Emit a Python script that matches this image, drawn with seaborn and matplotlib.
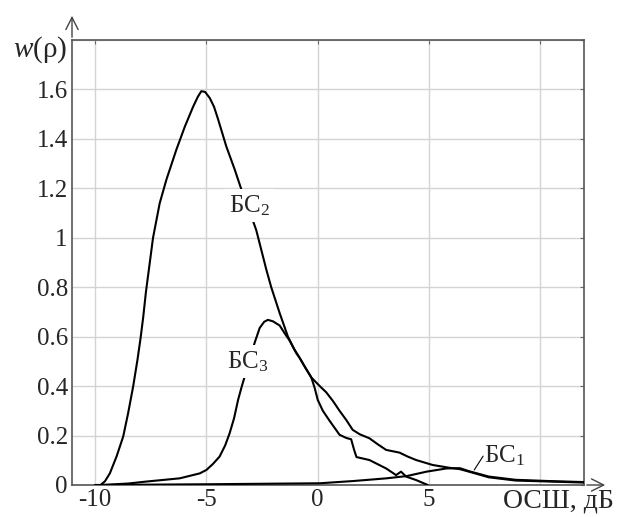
import matplotlib
matplotlib.use("Agg")
import matplotlib.pyplot as plt
import numpy as np
import pandas as pd
import seaborn as sns


# ── data ─────────────────────────────────────────────────────────────────────

bs1_x = [-10.0, -5.0, 0.1, 1.6, 3.1, 4.0, 4.9, 5.8, 6.4, 6.8, 7.7, 8.9, 10.4, 11.9, 12.0]
bs1_y = [0.0, 0.003, 0.007, 0.016, 0.027, 0.036, 0.054, 0.067, 0.068, 0.056, 0.034, 0.021, 0.016, 0.012, 0.012]

bs2_x = [-9.75, -9.55, -9.33, -9.03, -8.73, -8.51, -8.28, -8.09, -7.95, -7.83, -7.71, -7.55,
         -7.39, -7.09, -6.79, -6.34, -5.96, -5.59, -5.38, -5.22, -5.05, -4.84, -4.65, -4.47,
         -4.10, -3.72, -3.42, -3.10, -2.75, -2.30, -2.08, -1.70, -1.33, -1.05, -0.81, -0.55,
         -0.28, -0.12, 0.01, 0.24, 0.54, 0.99, 1.30, 1.51, 1.65, 1.75, 2.33, 3.08, 3.53,
         3.75, 3.98, 4.43, 4.95]
bs2_y = [0.0, 0.015, 0.047, 0.115, 0.196, 0.29, 0.40, 0.506, 0.594, 0.68, 0.78, 0.89,
         1.0, 1.14, 1.235, 1.357, 1.45, 1.53, 1.57, 1.593, 1.59, 1.565, 1.53, 1.48,
         1.37, 1.276, 1.195, 1.12, 1.03, 0.871, 0.80, 0.695, 0.60, 0.55, 0.515, 0.475,
         0.435, 0.39, 0.344, 0.30, 0.26, 0.203, 0.19, 0.185, 0.14, 0.113, 0.101, 0.067, 0.04,
         0.054, 0.034, 0.02, 0.0]

bs3_x = [-9.7, -8.5, -7.68, -6.19, -5.29, -4.99, -4.7, -4.4, -4.15, -3.95, -3.75, -3.57,
         -3.4, -3.1, -2.83, -2.6, -2.4, -2.23, -2.0, -1.70, -1.45, -1.26, -0.96, -0.81,
         -0.55, -0.28, 0.1, 0.39, 0.69, 0.99, 1.29, 1.58, 1.9, 2.33, 2.7, 3.08, 3.68,
         4.05, 4.43, 5.17, 5.9, 6.4, 6.8, 7.7, 8.9, 10.4, 11.9, 12.0]
bs3_y = [0.0, 0.006, 0.014, 0.027, 0.047, 0.061, 0.085, 0.115, 0.16, 0.209, 0.27, 0.344,
         0.40, 0.49, 0.574, 0.635, 0.66, 0.668, 0.662, 0.645, 0.61, 0.585, 0.534, 0.515,
         0.475, 0.435, 0.40, 0.375, 0.34, 0.30, 0.263, 0.223, 0.205, 0.189, 0.165, 0.142, 0.131,
         0.115, 0.101, 0.081, 0.070, 0.064, 0.054, 0.031, 0.018, 0.014, 0.010, 0.010]

x_ticks = [-10, -5, 0, 5, 10]
x_tick_labels = ["-10", "-5", "0", "5", ""]
y_ticks = [0, 0.2, 0.4, 0.6, 0.8, 1.0, 1.2, 1.4, 1.6, 1.8]
y_tick_labels = ["0", "0.2", "0.4", "0.6", "0.8", "1", "1.2", "1.4", "1.6", ""]


# ── plot ─────────────────────────────────────────────────────────────────────

sns.set_style("white")
plt.rcParams["font.family"] = ["Liberation Serif", "DejaVu Serif"]
plt.rcParams["mathtext.fontset"] = "custom"
plt.rcParams["mathtext.rm"] = "Liberation Serif"
plt.rcParams["mathtext.it"] = "Liberation Serif:italic"

fig = plt.figure(figsize=(6.17, 5.17), dpi=100)
ax = fig.add_axes([0.1167, 0.0619, 0.8298, 0.8607])

for xs, ys in [(bs1_x, bs1_y), (bs2_x, bs2_y), (bs3_x, bs3_y)]:
    df = pd.DataFrame({"x": xs, "y": ys})
    sns.lineplot(data=df, x="x", y="y", ax=ax, color="black", lw=1.5,
                 estimator=None, sort=False, zorder=3)

ax.set_xlim(-11.03, 11.97)
ax.set_ylim(0, 1.8)
ax.set_xticks(x_ticks)
ax.set_xticklabels(x_tick_labels)
ax.set_yticks(y_ticks)
ax.set_yticklabels(y_tick_labels)
ax.tick_params(labelsize=18, direction="in", length=3, color="#666666",
               top=True, right=True, pad=3)
ax.grid(True, color="#d4d4d4", lw=1.0)
ax.set_xlabel("")
ax.set_ylabel("")
for s in ax.spines.values():
    s.set_color("#555555")
    s.set_linewidth(1.2)

# curve labels
lbl = dict(fontsize=18, ha="center", va="center", zorder=4,
           bbox=dict(facecolor="white", edgecolor="none", pad=3))
ax.text(-3.05, 1.13, "БС$_2$", **lbl)
ax.text(-3.15, 0.50, "БС$_3$", **lbl)
ax.text(7.5, 0.12, "БС$_1$", fontsize=18, ha="left", va="center", zorder=4)
ax.plot([7.04, 7.44], [0.061, 0.117], color="black", lw=0.8, zorder=4)

# axis arrows
ax.annotate("", xy=(0, 1.0 + 27 / 445), xytext=(0, 1.0), xycoords="axes fraction",
            arrowprops=dict(arrowstyle="->", lw=1.0, color="#444444",
                            mutation_scale=22))
ax.annotate("", xy=(1.0 + 24 / 512, 0), xytext=(1.0, 0), xycoords="axes fraction",
            arrowprops=dict(arrowstyle="->", lw=1.0, color="#444444",
                            mutation_scale=22))

# axis titles
fig.text(40 / 617, 1 - 50 / 517, "$w$(ρ)", fontsize=21, ha="center", va="center")
fig.text(503 / 617, 1 - 501 / 517, "ОСШ, дБ", fontsize=20, ha="left", va="center")

fig.savefig("out.png", dpi=100)
